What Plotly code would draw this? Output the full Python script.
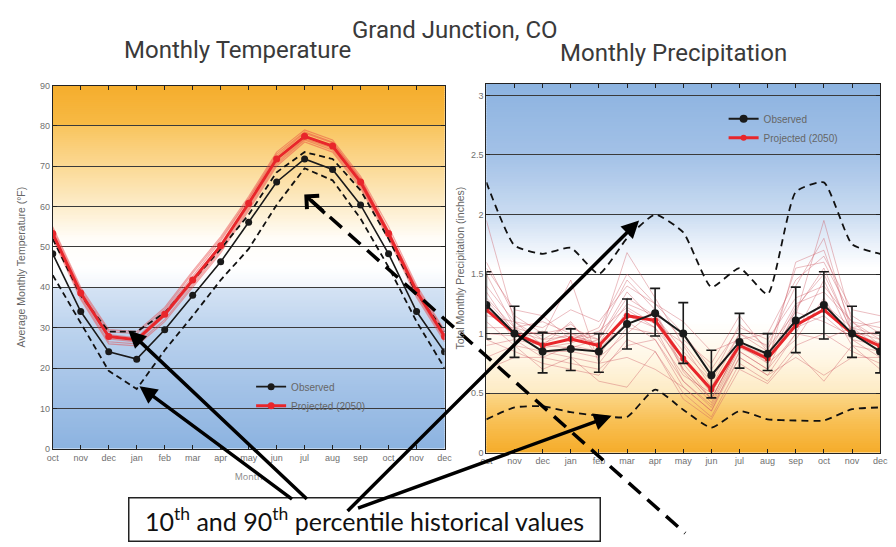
import plotly.graph_objects as go

# ---------------- data ----------------
months = ["oct", "nov", "dec", "jan", "feb", "mar", "apr", "may", "jun",
          "jul", "aug", "sep", "oct", "nov", "dec"]
month_pos = list(range(len(months)))

temp_ticks = [0, 10, 20, 30, 40, 50, 60, 70, 80, 90]
precip_ticks = [0, 0.5, 1, 1.5, 2, 2.5, 3]
precip_ticktext = ["0", "0.5", "1", "1.5", "2", "2.5", "3"]

temp_observed = [48.3, 34.0, 24.0, 22.2, 29.5, 38.0, 46.3, 56.1, 66.1, 71.8, 69.2, 60.4, 48.3, 34.0, 24.0]
temp_projected = [53.3, 38.6, 27.8, 27.0, 33.3, 41.8, 50.3, 60.8, 71.8, 77.4, 75.0, 66.1, 53.3, 39.0, 27.8]
temp_p90 = [52.0, 38.0, 29.0, 29.0, 33.7, 41.5, 49.5, 58.0, 68.5, 73.5, 71.8, 64.0, 52.0, 38.5, 29.0]
temp_p10 = [43.0, 31.0, 19.3, 14.8, 24.4, 32.9, 41.8, 49.5, 60.4, 69.5, 66.5, 57.0, 45.0, 31.5, 20.0]

temp_ens_1 = [54.5, 39.5, 29.0, 28.5, 34.5, 43.5, 52.0, 62.0, 73.0, 78.5, 76.0, 67.0, 54.0, 40.0, 29.0]
temp_ens_2 = [52.5, 37.5, 26.5, 26.0, 32.0, 40.5, 49.0, 59.5, 70.5, 76.5, 74.0, 65.0, 52.5, 38.0, 27.0]
temp_ens_3 = [53.8, 39.0, 28.3, 27.5, 34.0, 42.8, 51.5, 61.8, 72.5, 78.2, 75.8, 66.8, 54.0, 39.5, 28.5]
temp_ens_4 = [52.8, 38.0, 27.2, 26.5, 32.8, 41.0, 49.5, 60.0, 71.0, 76.8, 74.5, 65.5, 52.8, 38.5, 27.3]
temp_ens_5 = [55.0, 40.0, 29.5, 29.0, 35.0, 44.0, 52.5, 62.5, 73.5, 79.0, 76.5, 67.5, 55.0, 40.5, 29.3]
temp_ens_6 = [52.0, 37.0, 26.0, 25.5, 31.5, 40.0, 48.5, 59.0, 70.0, 76.0, 73.5, 64.5, 52.0, 37.5, 26.5]
temp_ensemble = [temp_ens_1, temp_ens_2, temp_ens_3, temp_ens_4, temp_ens_5, temp_ens_6]

precip_observed = [1.24, 1.00, 0.85, 0.87, 0.85, 1.08, 1.17, 1.00, 0.65, 0.93, 0.83, 1.11, 1.24, 1.00, 0.85]
precip_err_hi = [1.52, 1.23, 1.01, 1.04, 1.00, 1.29, 1.38, 1.26, 0.86, 1.17, 1.00, 1.39, 1.52, 1.23, 1.01]
precip_err_lo = [0.955, 0.80, 0.67, 0.69, 0.675, 0.87, 0.98, 0.75, 0.46, 0.71, 0.69, 0.84, 0.955, 0.80, 0.67]
precip_projected = [1.20, 1.00, 0.90, 0.955, 0.90, 1.15, 1.11, 0.79, 0.53, 0.90, 0.79, 1.07, 1.20, 1.00, 0.895]
precip_p90 = [2.27, 1.74, 1.67, 1.72, 1.50, 1.80, 2.00, 1.85, 1.39, 1.55, 1.33, 2.19, 2.27, 1.75, 1.67]
precip_p10 = [0.28, 0.38, 0.39, 0.34, 0.31, 0.30, 0.53, 0.36, 0.21, 0.35, 0.28, 0.27, 0.27, 0.365, 0.38]

precip_ens_1 = [1.95, 1.10, 0.95, 0.98, 0.92, 1.25, 1.15, 0.80, 0.50, 0.92, 0.80, 1.15, 1.95, 1.10, 0.95]
precip_ens_2 = [1.60, 1.15, 1.00, 1.05, 0.95, 1.68, 1.30, 0.90, 0.55, 1.00, 0.85, 1.55, 1.60, 1.15, 1.00]
precip_ens_3 = [1.50, 1.05, 0.88, 0.92, 1.00, 1.45, 1.20, 0.70, 0.45, 0.90, 0.75, 1.60, 1.70, 1.05, 0.88]
precip_ens_4 = [1.35, 1.00, 0.85, 0.85, 0.80, 1.20, 1.05, 0.60, 0.40, 0.85, 0.70, 1.20, 1.55, 1.00, 0.85]
precip_ens_5 = [1.25, 0.95, 0.80, 0.90, 0.85, 1.10, 0.95, 0.55, 0.35, 0.80, 0.65, 1.00, 1.45, 0.95, 0.80]
precip_ens_6 = [1.10, 0.90, 0.85, 0.80, 0.75, 1.05, 1.00, 0.65, 0.50, 0.95, 0.75, 0.95, 1.30, 0.90, 0.85]
precip_ens_7 = [0.95, 0.85, 0.75, 0.70, 0.65, 0.95, 0.85, 0.50, 0.30, 0.75, 0.60, 0.90, 1.00, 0.85, 0.75]
precip_ens_8 = [0.80, 0.90, 0.70, 0.80, 0.60, 0.55, 0.85, 0.45, 0.28, 0.70, 0.58, 0.85, 0.60, 0.90, 0.70]
precip_ens_9 = [1.40, 1.10, 1.05, 1.20, 1.10, 1.40, 1.25, 1.00, 0.70, 1.05, 0.95, 1.30, 1.40, 1.10, 1.05]
precip_ens_10 = [1.20, 1.00, 0.92, 1.00, 0.95, 1.30, 1.15, 0.85, 0.60, 1.00, 0.90, 1.40, 1.80, 1.00, 0.92]
precip_ens_11 = [1.05, 1.05, 1.10, 1.00, 0.90, 1.15, 1.05, 0.75, 0.45, 0.90, 0.80, 1.10, 1.25, 1.05, 1.10]
precip_ens_12 = [0.90, 0.95, 0.90, 1.10, 0.80, 1.00, 1.20, 0.95, 0.75, 1.15, 0.85, 1.05, 1.15, 0.95, 0.90]
precip_ens_13 = [1.55, 1.20, 1.15, 0.95, 1.05, 1.50, 1.25, 1.10, 0.85, 0.95, 1.00, 1.45, 1.65, 1.20, 1.15]
precip_ens_14 = [0.70, 0.80, 0.80, 0.75, 0.70, 0.90, 0.95, 0.60, 0.38, 0.80, 0.65, 0.80, 0.65, 0.80, 0.80]
precip_ens_15 = [1.30, 1.05, 0.98, 1.45, 0.75, 0.80, 0.70, 0.55, 0.35, 0.85, 0.70, 1.00, 0.95, 1.05, 0.98]
precip_ens_16 = [1.15, 1.10, 0.90, 0.88, 0.95, 1.35, 1.10, 0.70, 0.45, 0.90, 0.82, 1.25, 1.35, 1.10, 0.90]
precip_ens_17 = [1.00, 0.98, 1.02, 0.95, 1.02, 1.22, 1.08, 0.92, 0.62, 1.08, 0.88, 1.18, 1.10, 0.98, 1.02]
precip_ens_18 = [1.28, 1.02, 0.95, 1.08, 0.88, 1.08, 1.18, 0.68, 0.42, 0.88, 0.78, 1.22, 1.50, 1.02, 0.95]
precip_ensemble = [precip_ens_1, precip_ens_2, precip_ens_3, precip_ens_4, precip_ens_5,
                   precip_ens_6, precip_ens_7, precip_ens_8, precip_ens_9, precip_ens_10,
                   precip_ens_11, precip_ens_12, precip_ens_13, precip_ens_14, precip_ens_15,
                   precip_ens_16, precip_ens_17, precip_ens_18]

# ---------------- styling ----------------
TEMP_MAX = 90
PRECIP_MAX = 3.1
temp_bg_stops = [(0, "#8CB3E0"), (15, "#A3C2E7"), (30, "#BDD4EE"), (39.9, "#D5E3F4"),
                 (40.1, "#F2F6FC"), (45, "#FFFFFF"), (52, "#FFFDF8"), (60, "#FDEDCB"),
                 (70, "#FBD994"), (79.9, "#F9C55E"), (80.1, "#F7BA45"), (90, "#F5AD2D")]
precip_bg_stops = [(0, "#F5AC2A"), (0.25, "#F8BF52"), (0.49, "#FBD587"), (0.51, "#FDEBC4"),
                   (0.8, "#FFF7E6"), (1.1, "#FFFFFF"), (1.55, "#FFFFFF"), (1.75, "#EAF1FA"),
                   (2.0, "#CADCF1"), (2.5, "#A3C1E7"), (3.1, "#8CB3E0")]


def hex_rgb(h):
    h = h.lstrip("#")
    return tuple(int(h[i:i + 2], 16) for i in (0, 2, 4))


def interp_color(stops, v):
    for (v0, c0), (v1, c1) in zip(stops[:-1], stops[1:]):
        if v0 <= v <= v1:
            t = 0 if v1 == v0 else (v - v0) / (v1 - v0)
            a, b = hex_rgb(c0), hex_rgb(c1)
            return "rgb(%d,%d,%d)" % tuple(round(a[i] + (b[i] - a[i]) * t) for i in range(3))
    return stops[-1][1]


def gradient_shapes(xref, yref, stops, vmax, n):
    out = []
    step = vmax / n
    for i in range(n):
        y0 = step * i
        y1 = min(vmax, step * (i + 1) + step * 0.8)  # overlap to avoid seams
        out.append(dict(type="rect", xref=xref + " domain", yref=yref, x0=0, x1=1,
                        y0=y0, y1=y1, fillcolor=interp_color(stops, y0 + step / 2),
                        line=dict(width=0), layer="below"))
    return out


fig = go.Figure()

# ---- temperature panel ----
for ens in temp_ensemble:
    fig.add_trace(go.Scatter(x=month_pos, y=ens, mode="lines", xaxis="x", yaxis="y",
                             line=dict(color="rgba(230,60,60,0.45)", width=1.2),
                             showlegend=False, hoverinfo="skip"))
for pct in (temp_p90, temp_p10):
    fig.add_trace(go.Scatter(x=month_pos, y=pct, mode="lines", xaxis="x", yaxis="y",
                             line=dict(color="#111111", width=1.8, dash="6px,4px"),
                             showlegend=False))
fig.add_trace(go.Scatter(x=month_pos, y=temp_observed, mode="lines+markers", name="Observed",
                         xaxis="x", yaxis="y", legend="legend", legendrank=1,
                         line=dict(color="#1a1a1a", width=1.6),
                         marker=dict(color="#1a1a1a", size=7)))
fig.add_trace(go.Scatter(x=month_pos, y=temp_projected, mode="lines+markers", name="Projected (2050)",
                         xaxis="x", yaxis="y", legend="legend", legendrank=2,
                         line=dict(color="#E8262B", width=3),
                         marker=dict(color="#E8262B", size=7)))

# ---- precipitation panel ----
for ens in precip_ensemble:
    fig.add_trace(go.Scatter(x=month_pos, y=ens, mode="lines", xaxis="x2", yaxis="y2",
                             line=dict(color="rgba(205,90,100,0.40)", width=1),
                             showlegend=False, hoverinfo="skip"))
for pct in (precip_p90, precip_p10):
    fig.add_trace(go.Scatter(x=month_pos, y=pct, mode="lines", xaxis="x2", yaxis="y2",
                             line=dict(color="#111111", width=1.8, dash="7px,5px",
                                       shape="spline", smoothing=0.5),
                             showlegend=False))
fig.add_trace(go.Scatter(x=month_pos, y=precip_projected, mode="lines+markers",
                         name="Projected (2050)", xaxis="x2", yaxis="y2", legend="legend2",
                         legendrank=2,
                         line=dict(color="#E8262B", width=3),
                         marker=dict(color="#E8262B", size=6)))
err_plus = [h - o for h, o in zip(precip_err_hi, precip_observed)]
err_minus = [o - l for l, o in zip(precip_err_lo, precip_observed)]
fig.add_trace(go.Scatter(x=month_pos, y=precip_observed, mode="lines+markers", name="Observed",
                         xaxis="x2", yaxis="y2", legend="legend2", legendrank=1,
                         line=dict(color="#1a1a1a", width=2),
                         marker=dict(color="#1a1a1a", size=8),
                         error_y=dict(type="data", array=err_plus, arrayminus=err_minus,
                                      color="#1a1a1a", thickness=1.6, width=5)))

shapes = []
shapes += gradient_shapes("x", "y", temp_bg_stops, TEMP_MAX, 180)
shapes += gradient_shapes("x2", "y2", precip_bg_stops, PRECIP_MAX, 155)

# dashed arrow shaft (annotation decoration)
shapes.append(dict(type="line", xref="paper", yref="paper",
                   x0=310 / 896, y0=1 - 199 / 547, x1=690 / 896, y1=1 - 538 / 547,
                   line=dict(color="black", width=3.5, dash="16px,9px"), layer="above"))

tick_font = dict(family="Liberation Sans, Arial, sans-serif", size=9, color="#707070")
axis_common = dict(showline=True, linecolor="#222222", linewidth=1, mirror="ticks",
                   ticks="inside", ticklen=4, tickcolor="#222222", tickfont=tick_font,
                   zeroline=False)

fig.update_layout(
    width=896, height=547,
    margin=dict(l=0, r=0, t=0, b=0),
    paper_bgcolor="white", plot_bgcolor="rgba(0,0,0,0)",
    shapes=shapes,
    xaxis=dict(domain=[47.5 / 896, 445.5 / 896], range=[0, 14], anchor="y",
               tickvals=month_pos, ticktext=months, showgrid=False,
               title=dict(text="Month", font=dict(size=9, color="#888888"), standoff=12),
               **axis_common),
    yaxis=dict(domain=[1 - 452 / 547, 1 - 82 / 547], range=[0, TEMP_MAX], anchor="x",
               tickvals=temp_ticks, showgrid=True, gridcolor="#3a3a3a", gridwidth=1,
               title=dict(text="Average Monthly Temperature (°F)",
                          font=dict(family="Liberation Sans, Arial, sans-serif", size=10.5,
                                    color="#666666"), standoff=12),
               **axis_common),
    xaxis2=dict(domain=[488 / 896, 888 / 896], range=[0, 14], anchor="y2",
                tickvals=month_pos, ticktext=months, showgrid=False, **axis_common),
    yaxis2=dict(domain=[1 - 456 / 547, 1 - 80 / 547], range=[0, PRECIP_MAX], anchor="x2",
                tickvals=precip_ticks, ticktext=precip_ticktext, showgrid=True,
                gridcolor="#3a3a3a", gridwidth=1,
                title=dict(text="Total Monthly Precipitation (inches)",
                           font=dict(family="Liberation Sans, Arial, sans-serif", size=10.5,
                                     color="#666666"), standoff=4),
                **axis_common),
    legend=dict(x=249 / 896, y=1 - 374 / 547, xanchor="left", yanchor="top",
                bgcolor="rgba(0,0,0,0)", borderwidth=0, tracegroupgap=0,
                font=dict(family="Liberation Sans, Arial, sans-serif", size=10, color="#666666")),
    legend2=dict(x=729 / 896, y=1 - 101 / 547, xanchor="left", yanchor="top",
                 bgcolor="rgba(0,0,0,0)", borderwidth=0, tracegroupgap=0,
                 font=dict(family="Liberation Sans, Arial, sans-serif", size=10, color="#666666")),
)

title_font = dict(family="Roboto, sans-serif", size=24, color="#3a3a3a")
annotations = [
    dict(text="Grand Junction, CO", x=456 / 896, y=1 - 25 / 547, xref="paper", yref="paper",
         xanchor="center", yanchor="middle", showarrow=False, font=title_font),
    dict(text="Monthly Temperature", x=235 / 896, y=1 - 46 / 547, xref="paper", yref="paper",
         xanchor="center", yanchor="middle", showarrow=False, font=title_font),
    dict(text="Monthly Precipitation", x=678 / 896, y=1 - 49 / 547, xref="paper", yref="paper",
         xanchor="center", yanchor="middle", showarrow=False, font=title_font),
    dict(text="10<sup>th</sup> and 90<sup>th</sup> percentile historical values",
         x=364 / 896, y=1 - 524 / 547, xref="paper", yref="paper", showarrow=False,
         xanchor="center", yanchor="middle",
         width=468, height=40, bordercolor="#222222", borderwidth=1.5, bgcolor="white",
         font=dict(family="Lato, Open Sans, sans-serif", size=25, color="#111111")),
    # solid arrows (heads in data coordinates, tails as pixel offsets)
    dict(x=2.7, y=29.3, xref="x", yref="y", ax=180, ay=170, axref="pixel", ayref="pixel",
         text="", showarrow=True, arrowhead=2, arrowsize=1, arrowwidth=3.5, arrowcolor="black"),
    dict(x=3.1, y=15.5, xref="x", yref="y", ax=154, ay=114, axref="pixel", ayref="pixel",
         text="", showarrow=True, arrowhead=2, arrowsize=1, arrowwidth=3.5, arrowcolor="black"),
    dict(x=5.43, y=1.95, xref="x2", yref="y2", ax=-293, ay=292, axref="pixel", ayref="pixel",
         text="", showarrow=True, arrowhead=2, arrowsize=1, arrowwidth=3.5, arrowcolor="black"),
    dict(x=4.45, y=0.31, xref="x2", yref="y2", ax=-255, ay=93, axref="pixel", ayref="pixel",
         text="", showarrow=True, arrowhead=2, arrowsize=1, arrowwidth=3.5, arrowcolor="black"),
    # dashed arrow head
    dict(x=303 / 896, y=1 - 193 / 547, xref="paper", yref="paper", ax=22, ay=20,
         axref="pixel", ayref="pixel", text="", showarrow=True, arrowhead=4, arrowsize=1,
         arrowwidth=3.5, arrowcolor="black"),
]
fig.update_layout(annotations=annotations)

fig.write_html("out.html")
